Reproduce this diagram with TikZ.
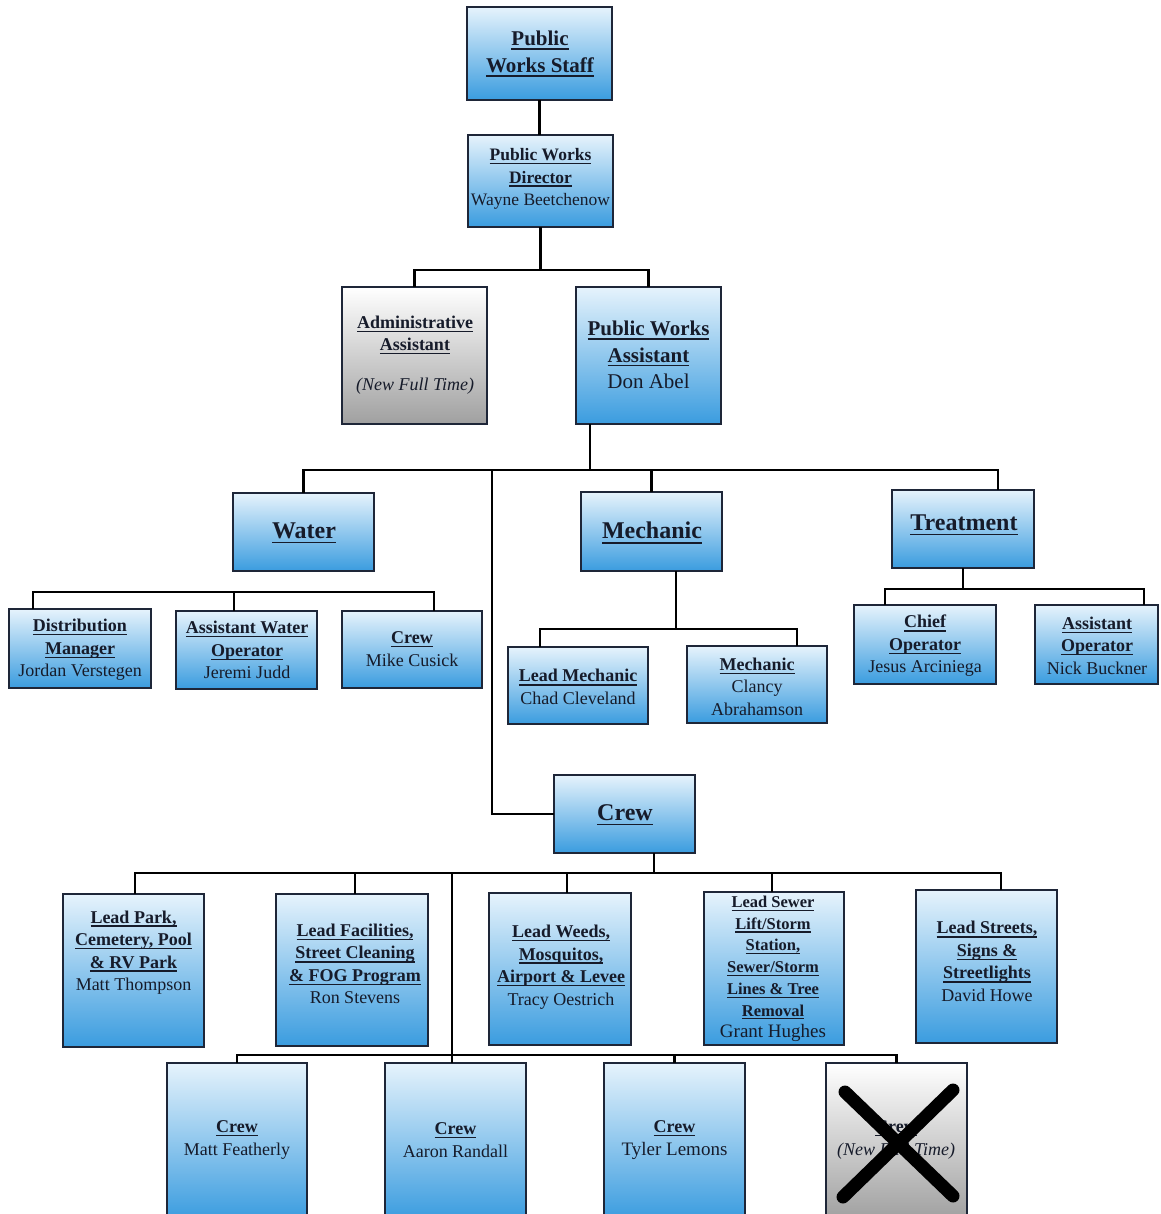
\documentclass[tikz,border=0pt]{standalone}
\usepackage{fontspec}
\setmainfont{Liberation Serif}
\usetikzlibrary{calc}
\definecolor{blueT}{HTML}{E6F3FC}
\definecolor{blueB}{HTML}{3A9CDF}
\definecolor{grayT}{HTML}{FFFFFF}
\definecolor{grayB}{HTML}{A0A0A0}
\definecolor{edge}{HTML}{1E2638}
\definecolor{ink}{HTML}{161B2A}
\newcommand\ulx[1]{\begingroup\setbox0\hbox{#1}\rlap{\raisebox{-0.2em}{\rule{\wd0}{0.07em}}}\box0\endgroup}
\begin{document}
\begin{tikzpicture}[x=1pt,y=-1pt,
  box/.style 2 args={draw=edge, line width=1.5pt, top color=blueT, bottom color=blueB,
    minimum width=#1pt, minimum height=#2pt, inner sep=0pt, outer sep=0pt},
  gbox/.style 2 args={box={#1}{#2}, top color=grayT, bottom color=grayB},
  conn/.style={draw=black, line width=2.4pt},
  txt/.style={align=center, text=ink, inner sep=0pt, font=\fontsize{18}{22.5}\selectfont},
  big/.style={txt, font=\fontsize{24}{28}\selectfont\bfseries},
  xmark/.style={line width=13pt, line cap=round, black}]
\clip (0,0) rectangle (1160,1214);
\fill[white] (0,0) rectangle (1160,1214);

% boxes
\node[box={145}{93}] (staff) at (539.5,53.5) {};
\node[box={145}{92}] (dir) at (540.5,181) {};
\node[gbox={145}{137}] (admin) at (414.5,355.5) {};
\node[box={145}{137}] (pwa) at (648.5,355.5) {};
\node[box={141}{78}] (water) at (303.5,532) {};
\node[box={141}{79}] (mech) at (651.5,531.5) {};
\node[box={142}{78}] (treat) at (963,529) {};
\node[box={142}{79}] (dm) at (80,648.5) {};
\node[box={141}{78}] (awo) at (246.5,650) {};
\node[box={140}{77}] (wcrew) at (412,649.5) {};
\node[box={140}{77}] (lmech) at (578,685.5) {};
\node[box={140}{77}] (mech2) at (757,684.5) {};
\node[box={142}{79}] (chief) at (925,644.5) {};
\node[box={123}{79}] (asstop) at (1096.5,644.5) {};
\node[box={141}{78}] (crew) at (624.5,814) {};
\node[box={141}{153}] (lpark) at (133.5,970.5) {};
\node[box={152}{152}] (lfac) at (352,970) {};
\node[box={142}{152}] (lweeds) at (560,969) {};
\node[box={140}{153}] (lsewer) at (774,968.5) {};
\node[box={141}{153}] (lstreets) at (986.5,966.5) {};
\node[box={140}{157}] (c1) at (237,1141.5) {};
\node[box={141}{157}] (c2) at (455.5,1141.5) {};
\node[box={141}{157}] (c3) at (674.5,1141.5) {};
\node[gbox={141}{157}] (c4) at (896.5,1141.5) {};

% texts
\node[txt, font=\fontsize{21}{27}\selectfont\bfseries] (t-staff) at (540,54) {\ulx{Public}\\\ulx{Works Staff}};
\node[txt, font=\fontsize{17.5}{22.5}\selectfont] (t-dir) at (540.5,179) {\textbf{\ulx{Public Works}}\\\textbf{\ulx{Director}}\\Wayne Beetchenow};
\node[txt] (t-admin) at (415,355) {\textbf{\ulx{Administrative}}\\\textbf{\ulx{Assistant}}\\[17pt]\textit{(New Full Time)}};
\node[txt, font=\fontsize{21}{26.5}\selectfont] (t-pwa) at (648.5,355) {\textbf{\ulx{Public Works}}\\\textbf{\ulx{Assistant}}\\Don Abel};
\node[big] (t-water) at (304,533) {\ulx{Water}};
\node[big] (t-mech) at (652,533) {\ulx{Mechanic}};
\node[big] (t-treat) at (964,525) {\ulx{Treatment}};
\node[big] (t-crew) at (625,815) {\ulx{Crew}};
\node[txt] (t-dm) at (80,650) {\textbf{\ulx{Distribution}}\\\textbf{\ulx{Manager}}\\Jordan Verstegen};
\node[txt] (t-awo) at (247,650) {\textbf{\ulx{Assistant Water}}\\\textbf{\ulx{Operator}}\\Jeremi Judd};
\node[txt] (t-wcrew) at (412,649) {\textbf{\ulx{Crew}}\\Mike Cusick};
\node[txt] (t-lmech) at (578,687) {\textbf{\ulx{Lead Mechanic}}\\Chad Cleveland};
\node[txt] (t-mech2) at (757,686.5) {\textbf{\ulx{Mechanic}}\\Clancy\\Abrahamson};
\node[txt] (t-chief) at (925,646) {\textbf{\ulx{Chief}}\\\textbf{\ulx{Operator}}\\Jesus Arciniega};
\node[txt] (t-asstop) at (1097,645.5) {\textbf{\ulx{Assistant}}\\\textbf{\ulx{Operator}}\\Nick Buckner};
\node[txt] (t-lpark) at (133.5,952.5) {\textbf{\ulx{Lead Park,}}\\\textbf{\ulx{Cemetery, Pool}}\\\textbf{\ulx{\& RV Park}}\\Matt Thompson};
\node[txt] (t-lfac) at (355,964) {\textbf{\ulx{Lead Facilities,}}\\\textbf{\ulx{Street Cleaning}}\\\textbf{\ulx{\& FOG Program}}\\Ron Stevens};
\node[txt] (t-lweeds) at (561,967) {\textbf{\ulx{Lead Weeds,}}\\\textbf{\ulx{Mosquitos,}}\\\textbf{\ulx{Airport \& Levee}}\\Tracy Oestrich};
\node[txt, font=\fontsize{16.5}{21.7}\selectfont] (t-lsewer) at (773,969) {\textbf{\ulx{Lead Sewer}}\\\textbf{\ulx{Lift/Storm}}\\\textbf{\ulx{Station,}}\\\textbf{\ulx{Sewer/Storm}}\\\textbf{\ulx{Lines \& Tree}}\\\textbf{\ulx{Removal}}\\{\fontsize{19}{21.7}\selectfont Grant Hughes}};
\node[txt] (t-lstreets) at (987,961.5) {\textbf{\ulx{Lead Streets,}}\\\textbf{\ulx{Signs \&}}\\\textbf{\ulx{Streetlights}}\\David Howe};
\node[txt] (t-c1) at (237,1140) {\textbf{\ulx{Crew}}\\Matt Featherly};
\node[txt] (t-c2) at (455.5,1140) {\textbf{\ulx{Crew}}\\Aaron Randall};
\node[txt] (t-c3) at (674.5,1140) {\textbf{\ulx{Crew}}\\{\fontsize{19}{22.5}\selectfont Tyler Lemons}};
\node[txt] (t-c4) at (896,1140) {\textbf{\ulx{Crew}}\\\textit{(New Full Time)}};
\draw[xmark] (845,1092) -- (953,1196);
\draw[xmark] (953,1090) -- (843,1197);

% connectors
\coordinate (j1) at (590,470);
\coordinate (j2) at (492,470);
\coordinate (j3) at (452,873);
\draw[conn] (staff.south) -- (staff.south |- dir.north);
\draw[conn] (dir.south) -- ++(0,43) -| (admin.north);
\draw[conn] (dir.south) -- ++(0,43) -| (pwa.north);
\draw[conn] ([xshift=-58.5pt]pwa.south) -- (j1);
\draw[conn] (j1) -| (water.north);
\draw[conn] (j1) -| (mech.north);
\draw[conn] (j1) -| ([xshift=35pt]treat.north);
\draw[conn] (j2) |- (crew.west);
\draw[conn] ([xshift=-47pt]dm.north) -- ++(0,-17) -| ([xshift=22pt]wcrew.north);
\draw[conn] ([xshift=-12.5pt]awo.north) -- ++(0,-19);
\draw[conn] ([xshift=24.5pt]mech.south) -- ++(0,58);
\draw[conn] ([xshift=-38pt]lmech.north) -- ++(0,-18) -| ([xshift=40pt]mech2.north);
\draw[conn] (treat.south) -- ++(0,21);
\draw[conn] ([xshift=-40pt]chief.north) -- ++(0,-16) -| ([xshift=47.5pt]asstop.north);
\draw[conn] ([xshift=29.5pt]crew.south) -- ++(0,20);
\draw[conn] ([xshift=1.5pt]lpark.north) -- ++(0,-21) -| ([xshift=14.5pt]lstreets.north);
\draw[conn] ([xshift=3pt]lfac.north) -- ++(0,-21);
\draw[conn] ([xshift=7pt]lweeds.north) -- ++(0,-20);
\draw[conn] ([xshift=-2pt]lsewer.north) -- ++(0,-19);
\draw[conn] (j3) -- ([xshift=-3.5pt]c2.north);
\draw[conn] (c1.north) -- ++(0,-8) -| (c4.north);
\draw[conn] (c3.north) -- ++(0,-8);
\end{tikzpicture}
\end{document}
